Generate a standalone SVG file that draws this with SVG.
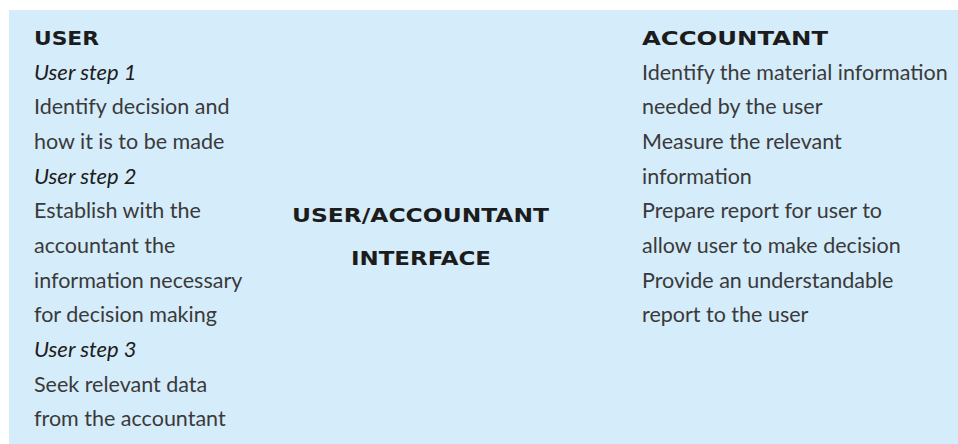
<svg xmlns="http://www.w3.org/2000/svg" width="958" height="444" viewBox="0 0 958 444">
<style>
.t{font-family:"Lato","Open Sans","Liberation Sans",sans-serif;font-size:21.5px;fill:#3a3a3a}
.h{font-family:"DejaVu Sans","Liberation Sans",sans-serif;font-size:20px;font-weight:700;fill:#1c1c1c}
.i{font-style:italic;font-size:22px;fill:#1c1c1c}
</style>
<rect x="9" y="10" width="949" height="434" fill="#D5ECFA"/>
<g id="user">
<text class="h" x="34" y="45" textLength="65" lengthAdjust="spacingAndGlyphs">USER</text>
<text class="t i" x="34" y="80">User step 1</text>
<text class="t" x="34" y="114">Identify decision and</text>
<text class="t" x="34" y="149">how it is to be made</text>
<text class="t i" x="34" y="184">User step 2</text>
<text class="t" x="34" y="218">Establish with the</text>
<text class="t" x="34" y="253">accountant the</text>
<text class="t" x="34" y="288">information necessary</text>
<text class="t" x="34" y="322">for decision making</text>
<text class="t i" x="34" y="357">User step 3</text>
<text class="t" x="34" y="392">Seek relevant data</text>
<text class="t" x="34" y="426">from the accountant</text>
</g>
<g id="interface">
<text class="h" x="292" y="222" textLength="257" lengthAdjust="spacingAndGlyphs">USER/ACCOUNTANT</text>
<text class="h" x="351" y="265" textLength="140" lengthAdjust="spacingAndGlyphs">INTERFACE</text>
</g>
<g id="accountant">
<text class="h" x="642" y="45" textLength="186" lengthAdjust="spacingAndGlyphs">ACCOUNTANT</text>
<text class="t" x="642" y="80">Identify the material information</text>
<text class="t" x="642" y="114">needed by the user</text>
<text class="t" x="642" y="149">Measure the relevant</text>
<text class="t" x="642" y="184">information</text>
<text class="t" x="642" y="218">Prepare report for user to</text>
<text class="t" x="642" y="253">allow user to make decision</text>
<text class="t" x="642" y="288">Provide an understandable</text>
<text class="t" x="642" y="322">report to the user</text>
</g>
</svg>
